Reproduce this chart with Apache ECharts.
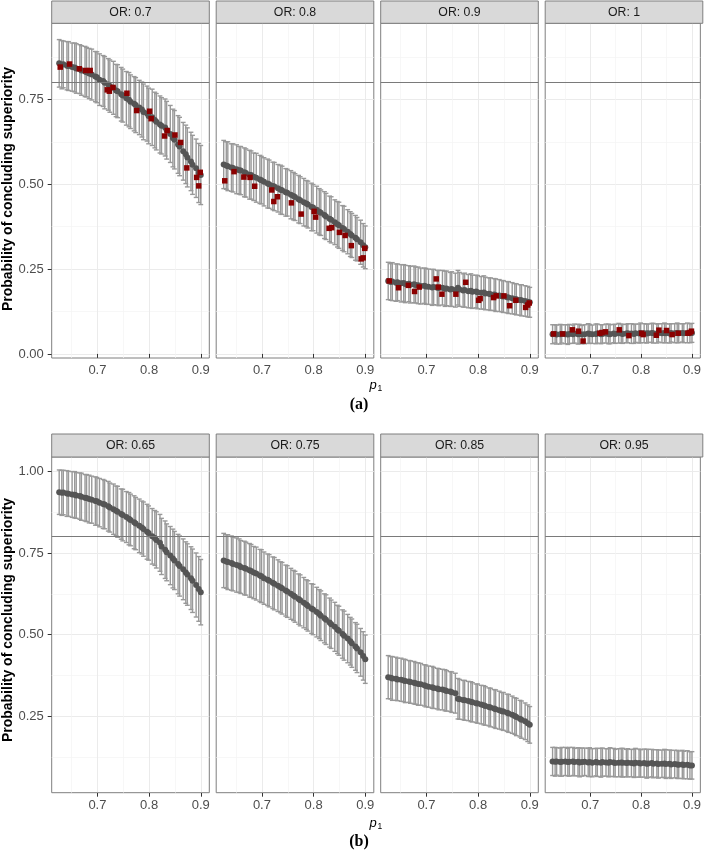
<!DOCTYPE html>
<html><head><meta charset="utf-8">
<script src="https://cdn.jsdelivr.net/npm/echarts@6/dist/echarts.min.js"></script>
<style>html,body{margin:0;padding:0;background:#fff}#c{width:704px;height:852px}</style>
</head><body><div id="c"></div>
<script>
// ---------- data ----------
const p1Values = [0.626,0.631,0.634,0.641,0.644,0.651,0.656,0.659,0.666,0.669,0.676,0.679,0.684,0.689,0.696,0.699,0.704,0.711,0.714,0.721,0.724,0.731,0.736,0.739,0.746,0.749,0.756,0.761,0.764,0.771,0.774,0.781,0.786,0.789,0.796,0.799,0.806,0.811,0.814,0.821,0.824,0.831,0.834,0.841,0.846,0.849,0.856,0.859,0.866,0.871,0.874,0.881,0.884,0.891,0.896,0.900];

const stripTop = ['OR: 0.7','OR: 0.8','OR: 0.9','OR: 1'];
const stripBottom = ['OR: 0.65','OR: 0.75','OR: 0.85','OR: 0.95'];

// (a) OR 0.7
const meanA1 = [0.856,0.852,0.853,0.849,0.848,0.845,0.844,0.841,0.839,0.835,0.832,0.830,0.826,0.823,0.817,0.815,0.808,0.804,0.799,0.794,0.789,0.784,0.776,0.774,0.765,0.761,0.753,0.749,0.743,0.737,0.733,0.726,0.720,0.713,0.708,0.701,0.697,0.689,0.684,0.676,0.672,0.667,0.659,0.648,0.636,0.631,0.617,0.611,0.597,0.588,0.579,0.567,0.557,0.547,0.533,0.527];
const halfA1 = [0.070,0.071,0.069,0.071,0.072,0.071,0.072,0.073,0.072,0.073,0.074,0.073,0.074,0.075,0.074,0.075,0.076,0.075,0.077,0.076,0.077,0.078,0.077,0.078,0.079,0.078,0.079,0.080,0.079,0.080,0.081,0.080,0.081,0.082,0.081,0.082,0.083,0.082,0.083,0.084,0.083,0.084,0.085,0.084,0.085,0.086,0.085,0.086,0.085,0.086,0.087,0.086,0.087,0.086,0.087,0.087];
// (a) OR 0.8
const meanA2 = [0.558,0.555,0.553,0.549,0.548,0.544,0.541,0.540,0.535,0.533,0.528,0.527,0.522,0.519,0.514,0.512,0.507,0.502,0.500,0.495,0.493,0.488,0.484,0.482,0.476,0.475,0.469,0.465,0.462,0.456,0.453,0.447,0.443,0.440,0.433,0.431,0.425,0.419,0.416,0.409,0.405,0.398,0.395,0.388,0.382,0.379,0.371,0.368,0.360,0.353,0.349,0.342,0.338,0.329,0.320,0.314];
const halfA2 = [0.071,0.070,0.072,0.070,0.071,0.072,0.070,0.071,0.072,0.071,0.072,0.071,0.070,0.072,0.071,0.070,0.071,0.072,0.071,0.070,0.071,0.070,0.072,0.071,0.070,0.069,0.071,0.070,0.069,0.070,0.069,0.070,0.068,0.069,0.070,0.068,0.069,0.068,0.067,0.069,0.068,0.067,0.068,0.066,0.067,0.068,0.066,0.067,0.065,0.066,0.065,0.066,0.064,0.065,0.064,0.063];
// (a) OR 0.9
const meanA3 = [0.215,0.212,0.213,0.210,0.211,0.208,0.209,0.206,0.207,0.204,0.205,0.203,0.202,0.200,0.201,0.199,0.198,0.196,0.197,0.195,0.194,0.195,0.192,0.193,0.190,0.191,0.188,0.195,0.190,0.187,0.188,0.185,0.186,0.183,0.184,0.182,0.180,0.181,0.178,0.177,0.176,0.175,0.173,0.172,0.170,0.169,0.167,0.166,0.164,0.162,0.161,0.159,0.158,0.156,0.154,0.152];
const halfA3 = [0.055,0.054,0.056,0.055,0.054,0.055,0.054,0.055,0.053,0.054,0.054,0.053,0.054,0.053,0.052,0.053,0.052,0.053,0.052,0.051,0.052,0.051,0.052,0.051,0.050,0.051,0.050,0.051,0.050,0.049,0.050,0.049,0.050,0.049,0.048,0.049,0.048,0.049,0.048,0.047,0.048,0.047,0.048,0.047,0.046,0.047,0.046,0.047,0.046,0.045,0.046,0.045,0.046,0.045,0.045,0.044];
// (a) OR 1
const meanA4 = [0.058,0.059,0.057,0.058,0.059,0.058,0.057,0.059,0.058,0.060,0.058,0.059,0.057,0.058,0.060,0.059,0.058,0.059,0.060,0.058,0.059,0.060,0.059,0.058,0.060,0.059,0.061,0.060,0.059,0.060,0.061,0.060,0.059,0.061,0.060,0.062,0.061,0.060,0.061,0.062,0.061,0.060,0.062,0.061,0.062,0.061,0.060,0.062,0.061,0.062,0.061,0.062,0.061,0.062,0.061,0.062];
const halfA4 = [0.028,0.027,0.028,0.029,0.027,0.028,0.029,0.028,0.027,0.028,0.029,0.028,0.027,0.028,0.029,0.028,0.027,0.029,0.028,0.028,0.027,0.028,0.029,0.028,0.027,0.028,0.029,0.028,0.028,0.027,0.028,0.029,0.028,0.027,0.028,0.029,0.028,0.028,0.027,0.028,0.029,0.028,0.027,0.028,0.029,0.028,0.028,0.027,0.028,0.029,0.028,0.027,0.028,0.029,0.028,0.028];

// (a) red squares
const redP1 = [0.628,0.646,0.665,0.677,0.686,0.719,0.723,0.730,0.757,0.776,0.801,0.804,0.830,0.835,0.850,0.861,0.873,0.892,0.896,0.899];
const redA1 = [0.845,0.854,0.840,0.835,0.835,0.778,0.774,0.785,0.768,0.717,0.715,0.693,0.642,0.658,0.645,0.623,0.548,0.520,0.495,0.535];
const redA2 = [0.510,0.537,0.521,0.520,0.494,0.483,0.449,0.463,0.445,0.412,0.420,0.403,0.370,0.372,0.358,0.349,0.319,0.280,0.283,0.311];
const redA3 = [0.215,0.195,0.202,0.184,0.197,0.221,0.197,0.176,0.176,0.211,0.158,0.163,0.166,0.171,0.171,0.142,0.158,0.137,0.144,0.150];
const redA4 = [0.059,0.059,0.071,0.067,0.038,0.061,0.063,0.065,0.071,0.054,0.061,0.057,0.055,0.070,0.069,0.057,0.061,0.061,0.063,0.067];

// (b) OR 0.65
const meanB1 = [0.936,0.934,0.935,0.932,0.931,0.929,0.928,0.926,0.924,0.922,0.919,0.918,0.915,0.913,0.909,0.908,0.904,0.900,0.898,0.893,0.889,0.884,0.879,0.876,0.869,0.866,0.860,0.855,0.851,0.844,0.840,0.833,0.828,0.823,0.815,0.811,0.801,0.796,0.790,0.781,0.770,0.760,0.752,0.742,0.733,0.727,0.716,0.710,0.700,0.690,0.684,0.673,0.665,0.652,0.640,0.630];
const halfB1 = [0.068,0.069,0.068,0.070,0.069,0.070,0.071,0.070,0.071,0.072,0.071,0.072,0.073,0.072,0.074,0.073,0.074,0.075,0.074,0.076,0.075,0.077,0.076,0.078,0.077,0.079,0.078,0.080,0.079,0.081,0.080,0.082,0.081,0.083,0.084,0.083,0.085,0.084,0.086,0.087,0.086,0.088,0.087,0.089,0.090,0.089,0.091,0.092,0.093,0.094,0.094,0.096,0.097,0.098,0.099,0.100];
// (b) OR 0.75
const meanB2 = [0.727,0.724,0.722,0.719,0.716,0.713,0.711,0.707,0.704,0.702,0.697,0.695,0.690,0.687,0.681,0.679,0.673,0.668,0.665,0.659,0.656,0.650,0.645,0.642,0.635,0.632,0.625,0.620,0.616,0.609,0.605,0.598,0.592,0.588,0.580,0.577,0.569,0.563,0.558,0.550,0.546,0.537,0.532,0.524,0.516,0.512,0.502,0.497,0.488,0.480,0.474,0.464,0.458,0.446,0.435,0.425];
const halfB2 = [0.083,0.082,0.084,0.083,0.082,0.083,0.082,0.081,0.082,0.081,0.082,0.081,0.080,0.081,0.080,0.081,0.080,0.079,0.080,0.079,0.080,0.079,0.078,0.079,0.078,0.079,0.078,0.077,0.078,0.077,0.078,0.077,0.076,0.077,0.076,0.077,0.076,0.075,0.076,0.075,0.076,0.075,0.074,0.075,0.074,0.075,0.074,0.075,0.074,0.073,0.074,0.073,0.074,0.073,0.074,0.074];
// (b) OR 0.85
const meanB3 = [0.370,0.368,0.366,0.365,0.363,0.362,0.360,0.358,0.357,0.355,0.353,0.351,0.349,0.348,0.345,0.343,0.341,0.339,0.337,0.335,0.333,0.332,0.330,0.328,0.326,0.324,0.321,0.304,0.302,0.300,0.299,0.297,0.295,0.293,0.290,0.289,0.286,0.284,0.282,0.279,0.277,0.274,0.272,0.269,0.266,0.265,0.261,0.259,0.255,0.251,0.248,0.243,0.240,0.235,0.229,0.224];
const halfB3 = [0.066,0.065,0.067,0.066,0.065,0.066,0.065,0.066,0.064,0.065,0.065,0.064,0.065,0.064,0.063,0.064,0.063,0.064,0.063,0.062,0.063,0.062,0.063,0.062,0.061,0.062,0.061,0.062,0.061,0.060,0.061,0.060,0.061,0.060,0.059,0.060,0.059,0.060,0.059,0.058,0.059,0.058,0.059,0.058,0.057,0.058,0.057,0.058,0.057,0.056,0.057,0.056,0.057,0.056,0.056,0.056];
// (b) OR 0.95
const meanB4 = [0.112,0.111,0.112,0.110,0.111,0.112,0.110,0.111,0.112,0.110,0.111,0.109,0.110,0.111,0.109,0.110,0.108,0.110,0.109,0.108,0.110,0.109,0.108,0.110,0.109,0.107,0.108,0.109,0.108,0.107,0.108,0.107,0.106,0.108,0.107,0.106,0.107,0.105,0.106,0.107,0.105,0.106,0.104,0.105,0.106,0.104,0.105,0.103,0.104,0.103,0.102,0.103,0.101,0.102,0.100,0.100];
const halfB4 = [0.043,0.044,0.042,0.043,0.044,0.043,0.042,0.044,0.043,0.042,0.043,0.044,0.043,0.042,0.043,0.044,0.043,0.042,0.043,0.044,0.043,0.042,0.043,0.044,0.043,0.042,0.043,0.043,0.044,0.042,0.043,0.042,0.043,0.044,0.043,0.042,0.043,0.044,0.043,0.042,0.043,0.042,0.043,0.042,0.043,0.044,0.042,0.043,0.042,0.043,0.042,0.043,0.042,0.043,0.042,0.042];

const xTickValues = [0.7, 0.8, 0.9];
const xMinorValues = [0.65, 0.75, 0.85];
const yTickTop = [0, 0.25, 0.5, 0.75];
const yTickBottom = [0.25, 0.5, 0.75, 1.0];
const yMinorValues = [0.125, 0.375, 0.625, 0.875];
const threshold = 0.8;

// ---------- layout ----------
const FONT = 'Liberation Sans, Arial, Helvetica, sans-serif';
const colLeft = [51.7, 216.2, 380.7, 545.2];
const panelW = 157.6;
const rows = [
  { stripY: 1, panelY: 23.3, panelH: 334.7, ymin: -0.012, ymax: 0.974, yTicks: yTickTop, titleY: 189, p1Y: 385, capY: 405, cap: '(a)' },
  { stripY: 434, panelY: 457, panelH: 335.7, ymin: 0.0164, ymax: 1.0437, yTicks: yTickBottom, titleY: 620, p1Y: 823, capY: 842, cap: '(b)' }
];
const xMin = 0.6115, xMax = 0.9165;

const panels = [
  { row: 0, col: 0, strip: stripTop[0], mean: meanA1, half: halfA1, red: redA1 },
  { row: 0, col: 1, strip: stripTop[1], mean: meanA2, half: halfA2, red: redA2 },
  { row: 0, col: 2, strip: stripTop[2], mean: meanA3, half: halfA3, red: redA3 },
  { row: 0, col: 3, strip: stripTop[3], mean: meanA4, half: halfA4, red: redA4 },
  { row: 1, col: 0, strip: stripBottom[0], mean: meanB1, half: halfB1, red: null },
  { row: 1, col: 1, strip: stripBottom[1], mean: meanB2, half: halfB2, red: null },
  { row: 1, col: 2, strip: stripBottom[2], mean: meanB3, half: halfB3, red: null },
  { row: 1, col: 3, strip: stripBottom[3], mean: meanB4, half: halfB4, red: null }
];

const grid = [], xAxis = [], yAxis = [], series = [], graphic = [];

function errRender(params, api) {
  const x = api.value(0), lo = api.value(1), hi = api.value(2);
  const a = api.coord([x, hi]), b = api.coord([x, lo]);
  const w = 2.4;
  const st = { stroke: '#999999', lineWidth: 1.4 };
  return { type: 'group', children: [
    { type: 'line', shape: { x1: a[0], y1: a[1], x2: b[0], y2: b[1] }, style: st },
    { type: 'line', shape: { x1: a[0] - w, y1: a[1], x2: a[0] + w, y2: a[1] }, style: st },
    { type: 'line', shape: { x1: b[0] - w, y1: b[1], x2: b[0] + w, y2: b[1] }, style: st }
  ]};
}

panels.forEach((p, k) => {
  const r = rows[p.row];
  grid.push({ left: colLeft[p.col], top: r.panelY, width: panelW, height: r.panelH,
    show: true, borderColor: '#7F7F7F', borderWidth: 1, backgroundColor: 'transparent', containLabel: false });
  xAxis.push({ type: 'value', gridIndex: k, min: xMin, max: xMax, position: 'bottom',
    axisLine: { show: false },
    axisTick: { show: true, length: 4, customValues: xTickValues, lineStyle: { color: '#333333', width: 1 } },
    axisLabel: { show: true, customValues: xTickValues, formatter: v => v.toFixed(1), margin: 6,
      color: '#4D4D4D', fontSize: 13, fontFamily: FONT },
    splitLine: { show: true, lineStyle: { color: '#EBEBEB', width: 1 } } });
  xAxis.push({ type: 'value', gridIndex: k, min: xMin, max: xMax, position: 'top',
    axisLine: { show: false },
    axisTick: { show: false, customValues: xMinorValues },
    axisLabel: { show: false, customValues: xMinorValues },
    splitLine: { show: true, lineStyle: { color: '#F3F3F3', width: 0.7 } } });
  yAxis.push({ type: 'value', gridIndex: k, min: r.ymin, max: r.ymax, position: 'left',
    axisLine: { show: false },
    axisTick: { show: p.col === 0, length: 4, customValues: r.yTicks, lineStyle: { color: '#333333', width: 1 } },
    axisLabel: { show: p.col === 0, customValues: r.yTicks, formatter: v => v.toFixed(2), margin: 8,
      color: '#4D4D4D', fontSize: 13, fontFamily: FONT },
    splitLine: { show: true, lineStyle: { color: '#EBEBEB', width: 1 } } });
  yAxis.push({ type: 'value', gridIndex: k, min: r.ymin, max: r.ymax, position: 'right',
    axisLine: { show: false },
    axisTick: { show: false, customValues: yMinorValues },
    axisLabel: { show: false, customValues: yMinorValues },
    splitLine: { show: true, lineStyle: { color: '#F3F3F3', width: 0.7 } } });

  const xi = 2 * k, yi = 2 * k;
  series.push({ type: 'custom', xAxisIndex: xi, yAxisIndex: yi, renderItem: errRender, z: 2, silent: true,
    data: p1Values.map((x, i) => [x, p.mean[i] - p.half[i], p.mean[i] + p.half[i]]) });
  series.push({ type: 'scatter', xAxisIndex: xi, yAxisIndex: yi, symbol: 'circle', symbolSize: 6, z: 3, silent: true,
    itemStyle: { color: '#555555', opacity: 1 },
    data: p1Values.map((x, i) => [x, p.mean[i]]),
    markLine: { silent: true, symbol: 'none', label: { show: false }, animation: false,
      lineStyle: { color: '#7A7A7A', width: 1, type: 'solid', opacity: 1 }, data: [{ yAxis: threshold }] } });
  if (p.red) {
    series.push({ type: 'scatter', xAxisIndex: xi, yAxisIndex: yi, symbol: 'rect', symbolSize: 5.5, z: 4, silent: true,
      itemStyle: { color: '#8B0000', opacity: 1 },
      data: redP1.map((x, i) => [x, p.red[i]]) });
  }
  graphic.push({ type: 'rect', shape: { x: colLeft[p.col], y: r.stripY, width: panelW, height: r.panelY - r.stripY },
    style: { fill: '#D9D9D9', stroke: '#7F7F7F', lineWidth: 1 }, z: 10 });
  graphic.push({ type: 'text', x: colLeft[p.col] + panelW / 2, y: r.stripY + (r.panelY - r.stripY) / 2 + 0.5,
    style: { text: p.strip, fill: '#1A1A1A', font: '12.3px ' + FONT, textAlign: 'center', textVerticalAlign: 'middle' }, z: 11 });
});

rows.forEach(r => {
  graphic.push({ type: 'text', x: 8, y: r.titleY, rotation: Math.PI / 2,
    style: { text: 'Probability of concluding superiority', fill: '#000', font: 'bold 14px ' + FONT,
      textAlign: 'center', textVerticalAlign: 'middle' }, z: 11 });
  graphic.push({ type: 'text', x: 373, y: r.p1Y,
    style: { text: 'p', fill: '#000', font: 'italic 13px ' + FONT, textAlign: 'center', textVerticalAlign: 'middle' }, z: 11 });
  graphic.push({ type: 'text', x: 379.8, y: r.p1Y + 4,
    style: { text: '1', fill: '#000', font: '8.5px ' + FONT, textAlign: 'center', textVerticalAlign: 'middle' }, z: 11 });
  graphic.push({ type: 'text', x: 359, y: r.capY,
    style: { text: r.cap, fill: '#000', font: 'bold 16px "Liberation Serif", "DejaVu Serif", serif', textAlign: 'center', textVerticalAlign: 'middle' }, z: 11 });
});

const chart = echarts.init(document.getElementById('c'), null, { renderer: 'canvas' });
chart.setOption({ animation: false, backgroundColor: '#ffffff', grid, xAxis, yAxis, series, graphic });
</script></body></html>
